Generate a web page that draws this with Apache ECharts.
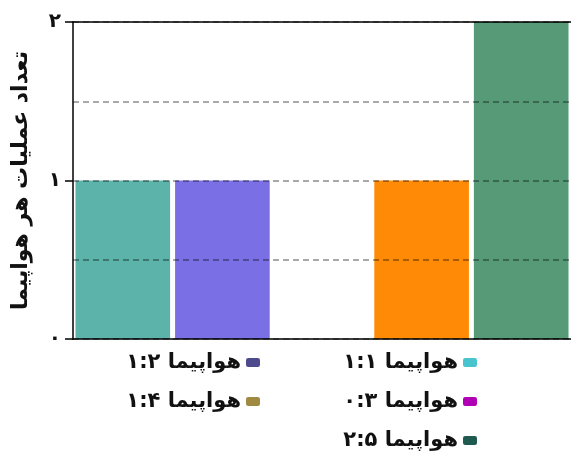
<!DOCTYPE html>
<html>
<head>
<meta charset="utf-8">
<script src="https://cdn.jsdelivr.net/npm/echarts@6/dist/echarts.min.js"></script>
<style>
  html, body { margin: 0; padding: 0; background: #fff; }
  #main { width: 571px; height: 468px; }
</style>
</head>
<body>
<div id="main"></div>
<script>
var categories = ['هواپیما ۱:۱', 'هواپیما ۱:۲', 'هواپیما ۰:۳', 'هواپیما ۱:۴', 'هواپیما ۲:۵'];
var values = [1, 1, 0, 1, 2];
var barColors = ['#5cb3aa', '#7b6fe6', '#c020c0', '#ff8a05', '#569a78'];
var legendColors = ['#48c4cc', '#4e4a8e', '#b000b5', '#a08a42', '#1f5a50'];
var yTickLabels = { 0: '۰', 1: '۱', 2: '۲' };
var yTitle = 'تعداد عملیات هر هواپیما';

var chart = echarts.init(document.getElementById('main'));
var font = 'DejaVu Sans';

// one series per plane, stacked so each bar sits in its own slot
var series = categories.map(function (name, i) {
    var d = values.map(function (v, j) { return j === i ? v : '-'; });
    return {
        name: name,
        type: 'bar',
        stack: 'all',
        barWidth: '95%',
        data: d,
        itemStyle: { color: barColors[i] }
    };
});

function legendItems(idx) {
    return idx.map(function (i) {
        return { name: categories[i], itemStyle: { color: legendColors[i] } };
    });
}

var legendText = { fontFamily: font, fontWeight: 'bold', fontSize: 21, lineHeight: 20, color: '#111' };
var gridDash = { color: 'rgba(0,0,0,0.45)', type: [6, 4], width: 1.5 };

chart.setOption({
    animation: false,
    grid: { left: 73, right: 0, top: 22, bottom: 129 },
    legend: [{
        orient: 'vertical',
        right: 89,
        top: 347,
        align: 'right',
        itemWidth: 14,
        itemHeight: 9,
        itemGap: 18,
        selectedMode: false,
        textStyle: legendText,
        data: legendItems([0, 2, 4])
    }, {
        orient: 'vertical',
        right: 306,
        top: 347,
        align: 'right',
        itemWidth: 14,
        itemHeight: 9,
        itemGap: 18,
        selectedMode: false,
        textStyle: legendText,
        data: legendItems([1, 3])
    }],
    xAxis: [{
        type: 'category',
        z: 4,
        data: categories,
        axisLine: { lineStyle: { color: '#000', width: 1.5 } },
        axisTick: { show: false },
        axisLabel: { show: false }
    }, {
        type: 'category',
        position: 'top',
        z: 4,
        data: categories,
        axisLine: { lineStyle: { color: '#000', width: 1.5 } },
        axisTick: { show: false },
        axisLabel: { show: false }
    }],
    yAxis: {
        type: 'value',
        z: 3,   // dashed grid shows over the bars like the original
        min: 0,
        max: 2,
        interval: 1,
        name: yTitle,
        nameLocation: 'middle',
        nameGap: 41,
        nameTextStyle: { fontFamily: font, fontWeight: 'bold', fontSize: 22, color: '#111' },
        axisLine: { show: true, lineStyle: { color: '#000', width: 1.5 } },
        axisTick: { show: true, length: 8, lineStyle: { color: '#000', width: 1.5 } },
        axisLabel: {
            fontFamily: font,
            fontWeight: 'bold',
            fontSize: 20,
            color: '#111',
            margin: 12,
            formatter: function (v) { return yTickLabels[v] !== undefined ? yTickLabels[v] : ''; }
        },
        minorTick: { show: false, splitNumber: 2 },
        splitLine: { show: true, lineStyle: gridDash },
        minorSplitLine: { show: true, lineStyle: gridDash }
    },
    series: series
});
</script>
</body>
</html>
